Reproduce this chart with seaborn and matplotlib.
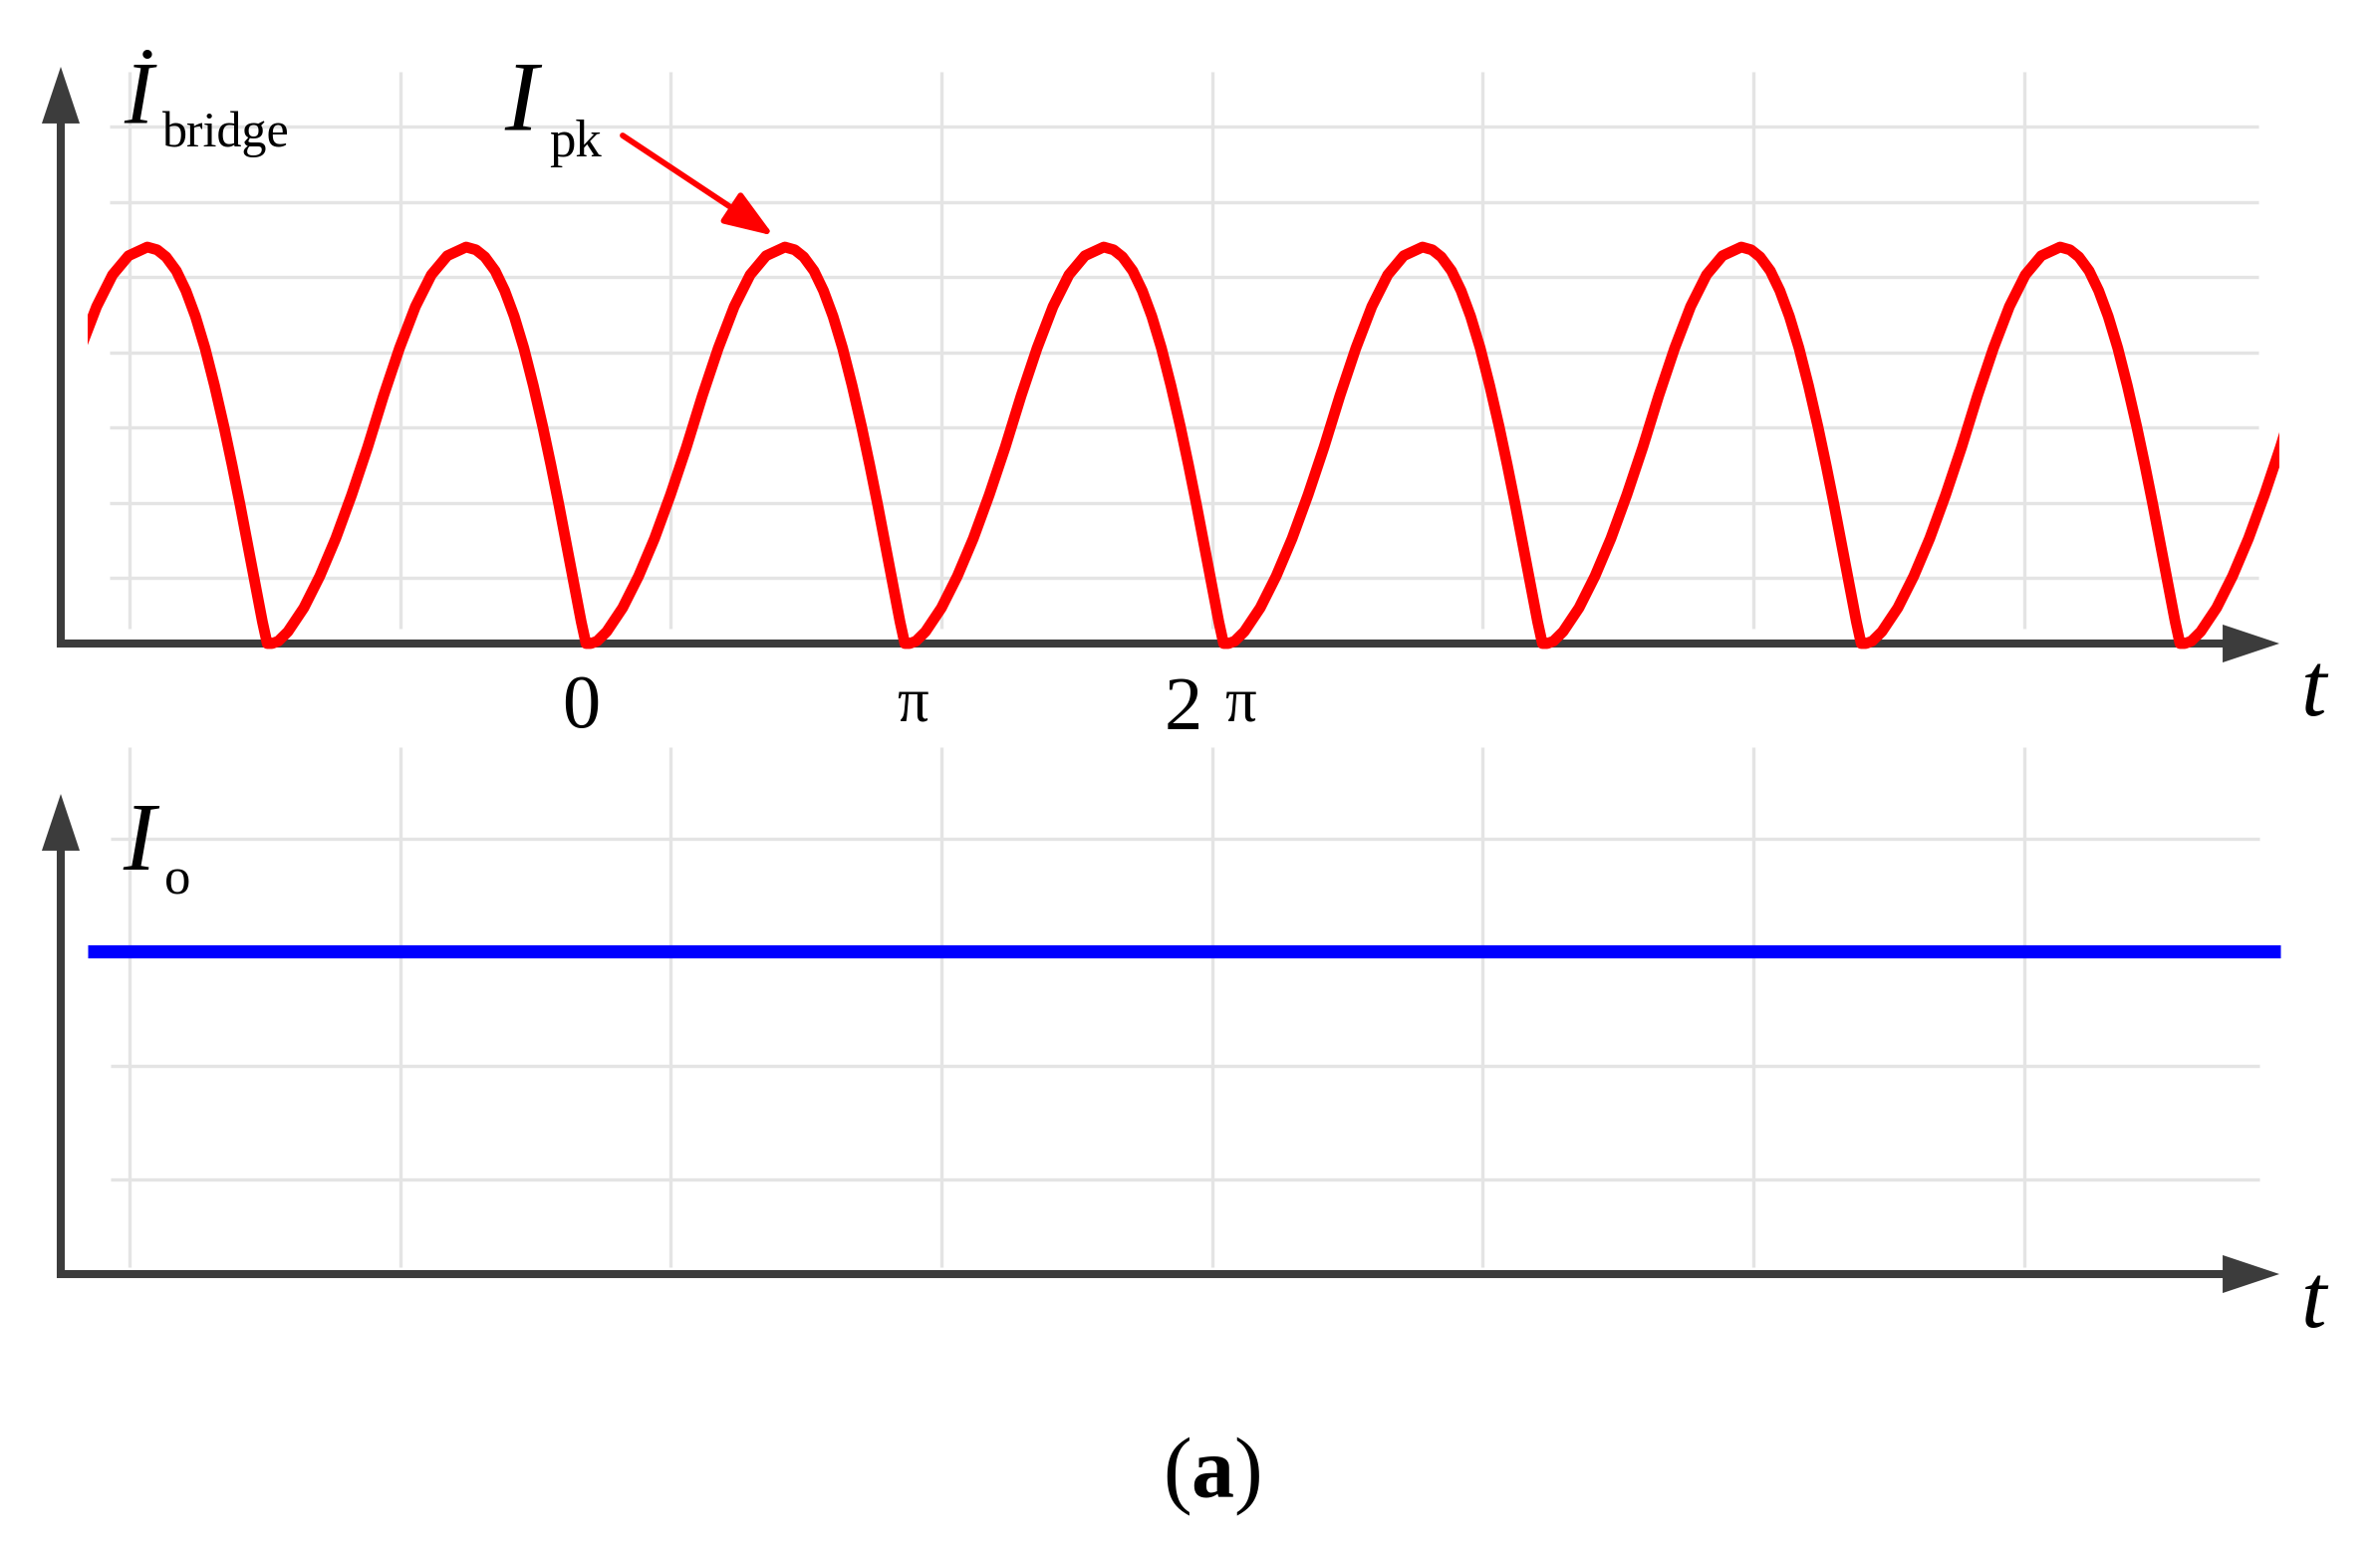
import numpy as np
import pandas as pd
import matplotlib
matplotlib.use("Agg")
import matplotlib.pyplot as plt
import seaborn as sns
from matplotlib.patches import Rectangle, ArrowStyle

# ---------------- data ----------------
# one period of the rectified bridge current: phase (fraction of a period = pi) and value / I_pk
cycle_phase = [0.0, 0.02, 0.05, 0.10, 0.15, 0.20, 0.25, 0.30, 0.35, 0.40,
               0.45, 0.50, 0.55, 0.609, 0.640, 0.668, 0.700, 0.730, 0.760, 0.790,
               0.820, 0.850, 0.875, 0.900, 0.925, 0.950, 0.970, 0.985]
cycle_current = [0.0, 0.006, 0.03, 0.09, 0.17, 0.265, 0.375, 0.495, 0.625, 0.745,
                 0.85, 0.93, 0.978, 1.0, 0.993, 0.975, 0.94, 0.89, 0.825, 0.745,
                 0.65, 0.545, 0.45, 0.35, 0.245, 0.14, 0.055, 0.0]
cycle_starts = [-2, -1, 0, 1, 2, 3, 4, 5]          # zero crossings, in units of pi
bridge_span = [-1.578, 5.297]                       # visible extent of the red trace
io_t = [-1.578, 5.30]                               # output current I_o (constant)
io_current = [1.0, 1.0]
tick_labels = ["0", "π", "2", "π"]
top_grid_y = [0.165, 0.354, 0.545, 0.734, 0.925, 1.114, 1.304]
bottom_grid_y = [0.293, 0.645, 0.997, 1.349]
grid_x = [-1.447, -0.598, 0.251, 1.100, 1.949, 2.798, 3.647, 4.496]

# ---------------- layout helpers ----------------
W, H = 2389, 1561
X0, SX = 593.0, 320.0           # pixel of t=0, pixels per pi
Y0T, SYT = 646.0, 398.0         # top panel baseline pixel, pixels per I_pk
Y0B, SYB = 1279.0, 324.0        # bottom panel baseline pixel, pixels per I_o

def u(px):
    return (px - X0) / SX

def vt(py):
    return (Y0T - py) / SYT

def vb(py):
    return (Y0B - py) / SYB

def P(px, py):
    return px / W, 1 - py / H

sns.set_theme(style="white")
plt.rcParams["font.family"] = ["Liberation Serif", "DejaVu Serif"]
plt.rcParams["mathtext.fontset"] = "custom"
plt.rcParams["mathtext.rm"] = "Liberation Serif"
plt.rcParams["mathtext.it"] = "Liberation Serif:italic"
plt.rcParams["mathtext.bf"] = "Liberation Serif:bold"

fig = plt.figure(figsize=(W / 100, H / 100), dpi=100)
fig.patch.set_facecolor("white")

# top axes: pixel rows 0..770
ax1 = fig.add_axes([0, 1 - 770 / H, 1, 770 / H])
ax1.set_xlim(u(0), u(W))
ax1.set_ylim(vt(770), vt(0))
# bottom axes: pixel rows 740..1420
ax2 = fig.add_axes([0, 1 - 1420 / H, 1, 680 / H])
ax2.set_xlim(u(0), u(W))
ax2.set_ylim(vb(1420), vb(740))
for ax in (ax1, ax2):
    ax.set_axis_off()
    ax.patch.set_alpha(0)

GRID_C = "#e4e4e4"
AX_C = "#3c3c3c"

# ---------------- grids ----------------
ax1.hlines(top_grid_y, u(110), u(2267), color=GRID_C, lw=2.4, zorder=0)
ax1.vlines(grid_x, vt(631), vt(72), color=GRID_C, lw=2.4, zorder=0)
ax2.hlines(bottom_grid_y, u(111), u(2268), color=GRID_C, lw=2.4, zorder=0)
ax2.vlines(grid_x, vb(1272), vb(750), color=GRID_C, lw=2.4, zorder=0)

# ---------------- axes with arrow heads ----------------
head = ArrowStyle("-|>", head_length=0.41, head_width=0.137)

def axis_arrows(ax, conv, base_py, top_py):
    # horizontal axis
    ax.plot([u(57), u(2288 - 50)], [conv(base_py), conv(base_py)], color=AX_C, lw=5.8,
            solid_capstyle="butt", zorder=3)
    ax.annotate("", xy=(u(2288), conv(base_py)), xytext=(u(2000), conv(base_py)),
                arrowprops=dict(arrowstyle=head, mutation_scale=100, lw=0, color=AX_C,
                                shrinkA=0, shrinkB=0), zorder=3)
    # vertical axis
    ax.plot([u(61), u(61)], [conv(base_py + 4), conv(top_py + 50)], color=AX_C, lw=5.8,
            solid_capstyle="butt", zorder=3)
    ax.annotate("", xy=(u(61), conv(top_py)), xytext=(u(61), conv(top_py + 300)),
                arrowprops=dict(arrowstyle=head, mutation_scale=100, lw=0, color=AX_C,
                                shrinkA=0, shrinkB=0), zorder=3)

axis_arrows(ax1, vt, Y0T, 67)
axis_arrows(ax2, vb, Y0B, 797)

# ---------------- bridge current (red) ----------------
t_vals, i_vals = [], []
for s in cycle_starts:
    for ph, val in zip(cycle_phase, cycle_current):
        t_vals.append(s + ph)
        i_vals.append(val)
df_bridge = pd.DataFrame({"t": t_vals, "i": i_vals})
sns.lineplot(data=df_bridge, x="t", y="i", ax=ax1, color="#ff0000", linewidth=7.8,
             sort=False, estimator=None, legend=False, zorder=4)
red_line = ax1.lines[-1]
red_line.set_solid_capstyle("butt")
red_line.set_solid_joinstyle("round")
clip = Rectangle((bridge_span[0], -0.5), bridge_span[1] - bridge_span[0], 2.5,
                 transform=ax1.transData)
red_line.set_clip_path(clip)

# I_pk arrow
ax1.annotate("", xy=(u(776.7), vt(236.7)), xytext=(u(625), vt(136)),
             arrowprops=dict(arrowstyle=ArrowStyle("-|>", head_length=0.30, head_width=0.11),
                             mutation_scale=100, lw=4.2, color="#ff0000",
                             shrinkA=0, shrinkB=0), zorder=5)

# ---------------- output current (blue) ----------------
df_io = pd.DataFrame({"t": io_t, "i": io_current})
sns.lineplot(data=df_io, x="t", y="i", ax=ax2, color="#0000ff", linewidth=9.5,
             sort=False, estimator=None, legend=False, zorder=4)
ax2.lines[-1].set_solid_capstyle("butt")

# ---------------- texts ----------------
FAM = ["Liberation Serif", "DejaVu Serif"]
def txt(px, py, s, size, ha="left", style="normal", weight="normal"):
    x, y = P(px, py)
    fig.text(x, y, s, fontsize=size, ha=ha, va="baseline", family=FAM,
             style=style, weight=weight, color="black")

txt(124, 122.7, "İ", 63, style="italic")
txt(163, 146.7, "bridge", 36)
txt(506, 130, "I", 72, style="italic")
txt(551, 156.7, "pk", 38)
txt(123, 872.7, "I", 70, style="italic")
txt(165, 898, "o", 38)

txt(582.7, 730, tick_labels[0], 55, ha="center")
txt(915.7, 723, tick_labels[1], 45, ha="center")
txt(1188, 732, tick_labels[2], 55, ha="center")
txt(1245, 723, tick_labels[3], 45, ha="center")

txt(2323, 718, "t", 66, ha="center", style="italic")
txt(2323, 1332, "t", 66, ha="center", style="italic")

txt(1216, 1503, r"($\mathbf{a}$)", 62, ha="center")

fig.savefig("out.png", dpi=100, facecolor="white")
